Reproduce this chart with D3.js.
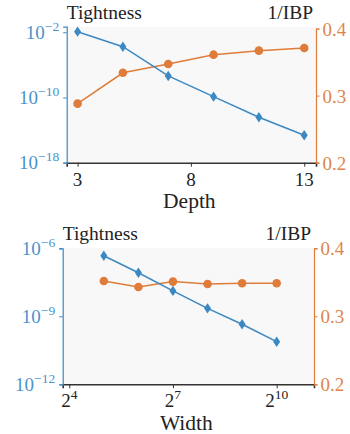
<!DOCTYPE html>
<html><head><meta charset="utf-8">
<script src="https://cdn.jsdelivr.net/npm/d3@7"></script>
<style>
body{margin:0;background:#fff;}
svg{display:block;}
</style></head>
<body><svg id="c" width="350" height="434"></svg>
<script>
// ---- data ----
const depths = [3, 5, 7, 9, 11, 13];
const depthTightnessExp = [-1.93, -3.77, -7.36, -9.9, -12.43, -14.64];
const depthIBP = [0.288, 0.334, 0.347, 0.361, 0.367, 0.371];

const widthsExp = [5, 6, 7, 8, 9, 10];
const widthTightnessExp = [-6.33, -7.08, -7.88, -8.65, -9.35, -10.12];
const widthIBP = [0.352, 0.343, 0.351, 0.3475, 0.3485, 0.3485];

const depthXTicks = [3, 8, 13];
const depthYTicksExp = [-2, -10, -18];
const widthXTicksExp = [4, 7, 10];
const widthYTicksExp = [-6, -9, -12];
const ibpTicks = [0.2, 0.3, 0.4];

const BLUE = "#3b88c3", BLUE_T = "#4a93cb", ORANGE = "#df7c3a", ORANGE_T = "#e0854a";
const FONT = "'Liberation Serif'";

const svg = d3.select("#c");

function panel(o) {
  const g = svg.append("g").attr("font-family", FONT);
  const x = o.x, yL = o.yL, yR = o.yR;
  const [x0, x1] = x.range();
  const [y1, y0] = yL.range();
  g.append("rect").attr("x", x0).attr("y", y0).attr("width", x1 - x0).attr("height", y1 - y0).attr("fill", "#f8f8f8");

  const xa = g.append("g").attr("transform", `translate(0,${y1})`)
    .call(d3.axisBottom(x).tickValues(o.xTicks).tickSize(4).tickFormat(""));
  xa.select(".domain").attr("stroke", "#333").attr("stroke-width", 1.6);
  xa.selectAll(".tick line").attr("stroke", "#333").attr("stroke-width", 1);
  o.xTicks.forEach(t => {
    const tx = g.append("text").attr("x", x(t)).attr("y", y1 + 23).attr("text-anchor", "middle")
      .attr("font-family", FONT).attr("font-size", 19).attr("fill", "#222");
    if (o.xSup) {
      tx.append("tspan").text(o.xBase);
      tx.append("tspan").attr("font-size", 13.5).attr("dy", -8).text(t);
    } else tx.text(t);
  });
  g.append("text").attr("x", (x0 + x1) / 2 - 2).attr("y", y1 + 45.5).attr("text-anchor", "middle")
    .attr("font-family", FONT).attr("font-size", 21.5).attr("fill", "#222").text(o.xLabel);

  const la = g.append("g").attr("transform", `translate(${x0},0)`)
    .call(d3.axisLeft(yL).tickValues(o.yTicks.map(e => Math.pow(10, e))).tickSize(3.5).tickFormat(""));
  la.select(".domain").attr("stroke", BLUE).attr("stroke-width", 1.2);
  la.selectAll(".tick line").attr("stroke", BLUE);
  o.yTicks.forEach(e => {
    const tx = g.append("text").attr("x", x0 - 7.5).attr("y", yL(Math.pow(10, e)) + 6.5)
      .attr("text-anchor", "end").attr("font-family", FONT).attr("font-size", 19).attr("fill", BLUE_T);
    tx.append("tspan").text("10");
    tx.append("tspan").attr("font-size", 13.5).attr("dy", -8).text("\u2212" + Math.abs(e));
  });

  const ra = g.append("g").attr("transform", `translate(${x1},0)`)
    .call(d3.axisRight(yR).tickValues(ibpTicks).tickSize(3.5).tickFormat(""));
  ra.select(".domain").attr("stroke", ORANGE).attr("stroke-width", 1.2);
  ra.selectAll(".tick line").attr("stroke", ORANGE);
  ibpTicks.forEach(t => {
    g.append("text").attr("x", x1 + 6.5).attr("y", yR(t) + 7).attr("font-family", FONT).attr("font-size", 19)
      .attr("fill", ORANGE_T).text(t.toFixed(1));
  });

  g.append("text").attr("x", x0).attr("y", y0 - 8).attr("font-family", FONT).attr("font-size", 19.5).attr("fill", "#222").text("Tightness");
  g.append("text").attr("x", x1 - 3).attr("y", y0 - 8).attr("text-anchor", "end").attr("font-family", FONT).attr("font-size", 19.5).attr("fill", "#222").text("1/IBP");

  const po = o.xs.map((v, i) => [x(v), yR(o.ibp[i])]);
  g.append("path").attr("d", d3.line()(po)).attr("fill", "none").attr("stroke", ORANGE).attr("stroke-width", 1.5);
  g.selectAll(null).data(po).join("circle").attr("cx", d => d[0]).attr("cy", d => d[1]).attr("r", 4.3).attr("fill", ORANGE);

  const pb = o.xs.map((v, i) => [x(v), yL(Math.pow(10, o.tight[i]))]);
  g.append("path").attr("d", d3.line()(pb)).attr("fill", "none").attr("stroke", BLUE).attr("stroke-width", 1.5);
  g.selectAll(null).data(pb).join("path")
    .attr("d", d => `M${d[0]},${d[1] - 5.2}L${d[0] + 3.5},${d[1]}L${d[0]},${d[1] + 5.2}L${d[0] - 3.5},${d[1]}Z`)
    .attr("fill", BLUE);
}

panel({
  x: d3.scaleLinear().domain([2.52, 13.52]).range([66.7, 316]),
  yL: d3.scaleLog().domain([1e-18, Math.pow(10, -1.32)]).range([162.7, 26.7]),
  yR: d3.scaleLinear().domain([0.2, 0.4]).range([162.7, 28.5]),
  xTicks: depthXTicks, xSup: false, xLabel: "Depth",
  yTicks: depthYTicksExp,
  xs: depths, tight: depthTightnessExp, ibp: depthIBP
});

panel({
  x: d3.scaleLinear().domain([3.81, 11.08]).range([62.7, 314]),
  yL: d3.scaleLog().domain([1e-12, 1e-6]).range([384.3, 248.3]),
  yR: d3.scaleLinear().domain([0.2, 0.4]).range([384.3, 248.3]),
  xTicks: widthXTicksExp, xSup: true, xBase: "2", xLabel: "Width",
  yTicks: widthYTicksExp,
  xs: widthsExp, tight: widthTightnessExp, ibp: widthIBP
});
</script></body></html>
